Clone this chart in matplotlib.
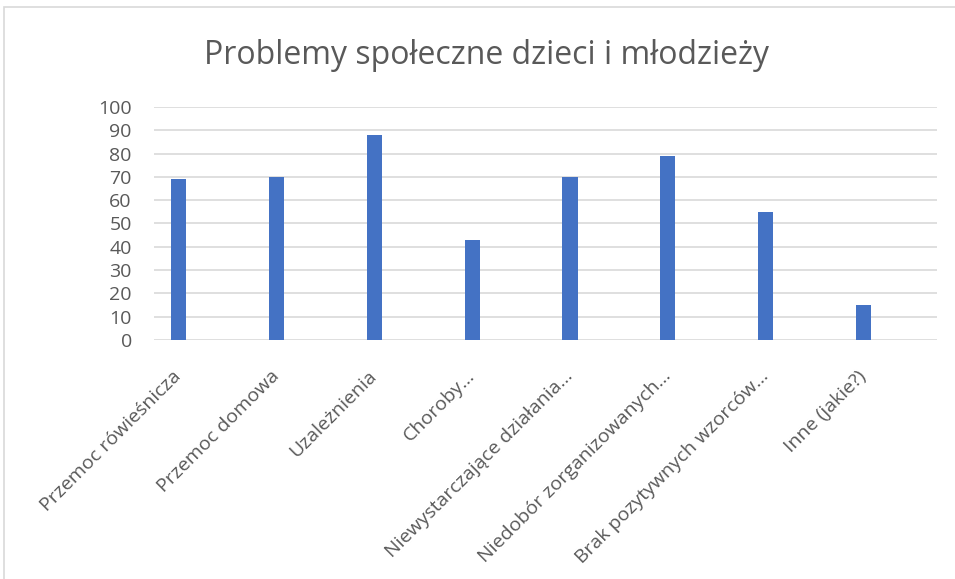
import matplotlib.pyplot as plt
from matplotlib.patches import Rectangle

categories = ["Przemoc rówieśnicza", "Przemoc domowa", "Uzależnienia", "Choroby…",
              "Niewystarczające działania…", "Niedobór zorganizowanych…",
              "Brak pozytywnych wzorców…", "Inne (jakie?)"]
values = [69, 70, 88, 43, 70, 79, 55, 15]
yticks = [0, 10, 20, 30, 40, 50, 60, 70, 80, 90, 100]

plt.rcParams['font.family'] = ['Open Sans', 'DejaVu Sans']

fig = plt.figure(figsize=(9.55, 5.79), dpi=100)
fig.patches.append(Rectangle((4/955, -0.01), 1.0, 1 - 7/579 + 0.01, transform=fig.transFigure,
                             fill=False, edgecolor='#d9d9d9', lw=1.2))
ax = fig.add_axes([154/955, 1-340/579, (937-154)/955, (340-107)/579])

# bars sit a quarter category left of centre, as in the source chart
x = [i - 0.25 for i in range(len(categories))]
ax.bar(x, values, width=0.155, color='#4472c4', zorder=3)
ax.set_xlim(-0.5, len(categories) - 0.5)
ax.set_ylim(0, 100)
ax.set_yticks(yticks)
ax.yaxis.grid(True, color='#d9d9d9', lw=1.2, zorder=0)
for s in ax.spines.values():
    s.set_visible(False)
ax.tick_params(length=0, colors='#595959', labelsize=14)
ax.tick_params(axis='y', pad=16)
ax.set_xticks(x)
ax.set_xticklabels(categories, rotation=45, ha='right', va='center', rotation_mode='anchor')
ax.tick_params(axis='x', pad=24)

fig.text(0.509, 1-55/579, "Problemy społeczne dzieci i młodzieży", ha='center', va='center',
         fontsize=23, color='#595959')

fig.savefig("out.png", dpi=100)
